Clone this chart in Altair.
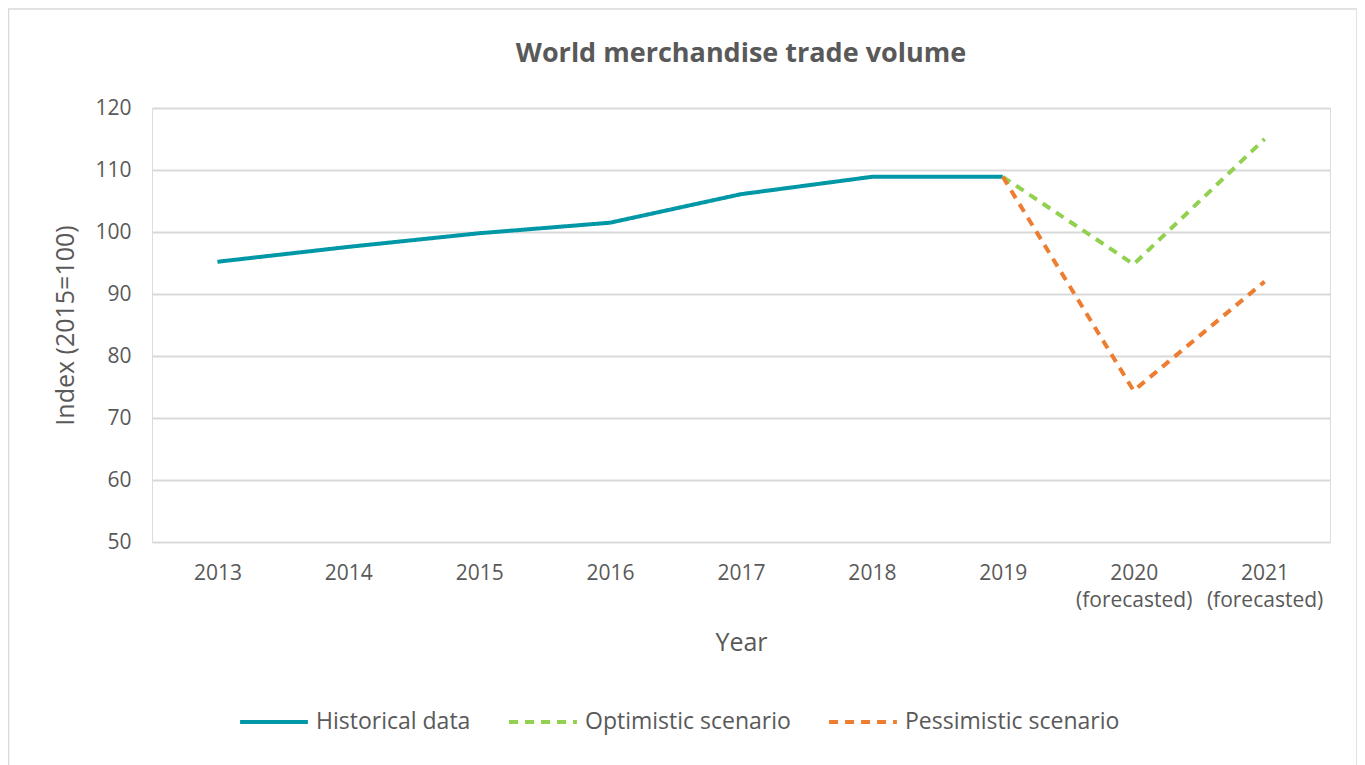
import altair as alt
import pandas as pd

years = ["2013", "2014", "2015", "2016", "2017", "2018", "2019",
         "2020\n(forecasted)", "2021\n(forecasted)"]
historical = [95.2, 97.6, 99.8, 101.5, 106.1, 108.9, 108.9]
optimistic_years = ["2019", "2020\n(forecasted)", "2021\n(forecasted)"]
optimistic = [108.9, 94.8, 115.0]
pessimistic_years = ["2019", "2020\n(forecasted)", "2021\n(forecasted)"]
pessimistic = [108.9, 74.4, 92.0]
series_names = ["Historical data", "Optimistic scenario", "Pessimistic scenario"]
series_colors = ["#0097A7", "#92D050", "#ED7D31"]

rows = []
for y, v in zip(years[:len(historical)], historical):
    rows.append({"year": y, "value": v, "series": series_names[0]})
for y, v in zip(optimistic_years, optimistic):
    rows.append({"year": y, "value": v, "series": series_names[1]})
for y, v in zip(pessimistic_years, pessimistic):
    rows.append({"year": y, "value": v, "series": series_names[2]})
df = pd.DataFrame(rows)

FONT = "Open Sans"
GREY = "#595959"

lines = alt.Chart(df).mark_line(strokeWidth=4, strokeCap="butt", strokeJoin="round").encode(
    x=alt.X("year:N", sort=years, title="Year",
            axis=alt.Axis(labelExpr="split(datum.label, '\\n')", labelAngle=0,
                          ticks=False, domain=False, grid=False,
                          labelFontSize=21, labelColor=GREY, labelPadding=20,
                          labelLineHeight=27,
                          titleFontSize=25, titleColor=GREY, titleFontWeight="normal",
                          titlePadding=20, labelFont=FONT, titleFont=FONT),
            scale=alt.Scale(paddingInner=0, paddingOuter=0.5)),
    y=alt.Y("value:Q", title="Index (2015=100)",
            scale=alt.Scale(domain=[50, 120], nice=False, zero=False),
            axis=alt.Axis(values=[50, 60, 70, 80, 90, 100, 110, 120],
                          ticks=False, domain=False, gridColor="#D9D9D9", gridWidth=2,
                          labelFontSize=21, labelColor=GREY, labelPadding=21,
                          titleFontSize=25, titleColor=GREY, titleFontWeight="normal",
                          titlePadding=16, labelFont=FONT, titleFont=FONT)),
    color=alt.Color("series:N", sort=series_names,
                    scale=alt.Scale(domain=series_names, range=series_colors),
                    legend=alt.Legend(title=None, orient="none", direction="horizontal",
                                      legendX=86, legendY=578, symbolType="stroke",
                                      symbolSize=4600, symbolStrokeWidth=4,
                                      labelFontSize=23, labelColor=GREY, labelFont=FONT,
                                      labelLimit=400, columnPadding=30, labelOffset=6)),
    strokeDash=alt.StrokeDash("series:N", sort=series_names,
                              scale=alt.Scale(domain=series_names,
                                              range=[[1, 0], [9, 7], [9, 7]])),
    detail="series:N",
)

border = alt.Chart(pd.DataFrame({"a": [0]})).mark_rect(
    fillOpacity=0, stroke="#D9D9D9", strokeWidth=1.5
).encode(x=alt.value(-143.5), x2=alt.value(1205), y=alt.value(-99), y2=alt.value(700))

chart = alt.layer(border, lines).properties(
    width=1178, height=434,
    title=alt.TitleParams("World merchandise trade volume", fontSize=27, font=FONT,
                          fontWeight="bold", color=GREY, anchor="middle", offset=40,
                          dy=100, frame="group"),
    padding={"left": 144, "top": 100, "right": 27, "bottom": 260},
    autosize=alt.AutoSizeParams(type="none"),
).configure_view(stroke=None).configure(font=FONT)

chart.save("out.html", embed_options={"renderer": "svg", "actions": False})
